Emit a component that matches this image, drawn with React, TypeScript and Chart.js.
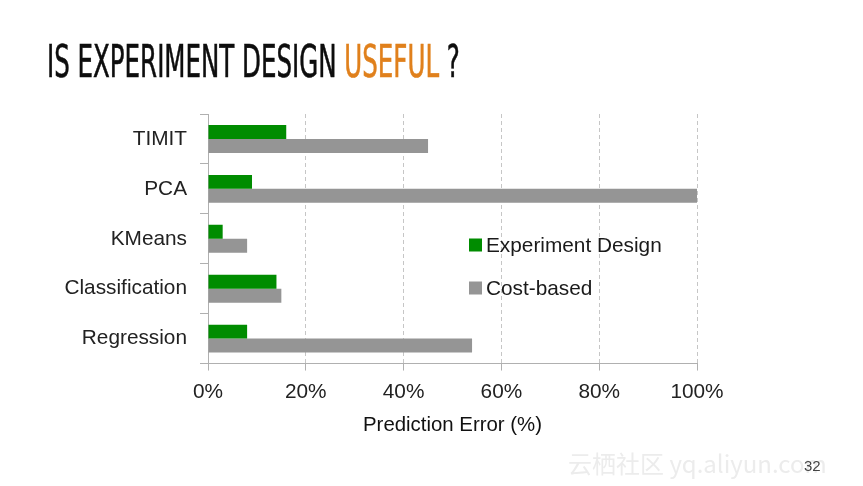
import React, { useEffect, useLayoutEffect, useRef } from 'react';
import { Chart, registerables } from 'chart.js';

Chart.register(...registerables);

const categories = ['TIMIT', 'PCA', 'KMeans', 'Classification', 'Regression'];
const experimentDesign = [16, 9, 3, 14, 8];
const costBased = [45, 100, 8, 15, 54];
const seriesLabels = ['Experiment Design', 'Cost-based'];
const seriesColors = ['#008c00', '#959595'];
const xTicks = [0, 20, 40, 60, 80, 100];
const xTitle = 'Prediction Error (%)';
const titleMain = 'IS EXPERIMENT DESIGN ';
const titleAccent = 'USEFUL';
const titleEnd = ' ?';
const watermark = '云栖社区 yq.aliyun.com';
const pageNumber = '32';

const FONT = '"Liberation Sans", Arial, Helvetica, sans-serif';

const insideLegend = {
  id: 'insideLegend',
  afterDraw(chart: any) {
    const { ctx, chartArea } = chart;
    const x = chartArea.left + 261;
    ctx.save();
    chart.data.datasets.forEach((ds: any, i: number) => {
      const y = chartArea.top + 131 + i * 43;
      ctx.fillStyle = ds.backgroundColor;
      ctx.fillRect(x, y - 6.5, 13, 13);
      ctx.fillStyle = '#1a1a1a';
      ctx.font = '20.8px ' + FONT;
      ctx.textBaseline = 'middle';
      ctx.textAlign = 'left';
      ctx.fillText(ds.label, x + 17, y + 1);
    });
    ctx.restore();
  },
};

export default function App() {
  const canvasRef = useRef<HTMLCanvasElement | null>(null);
  const titleRef = useRef<HTMLSpanElement | null>(null);

  useLayoutEffect(() => {
    const el = titleRef.current;
    if (el) {
      const w = el.offsetWidth;
      if (w > 0) el.style.transform = `scaleX(${413 / w})`;
    }
  }, []);

  useEffect(() => {
    if (!canvasRef.current) return;
    const chart = new Chart(canvasRef.current, {
      type: 'bar',
      data: {
        labels: categories,
        datasets: [
          { label: seriesLabels[0], data: experimentDesign, backgroundColor: seriesColors[0], borderWidth: 0 },
          { label: seriesLabels[1], data: costBased, backgroundColor: seriesColors[1], borderWidth: 0 },
        ],
      },
      plugins: [insideLegend],
      options: {
        indexAxis: 'y',
        animation: false,
        responsive: false,
        devicePixelRatio: 1,
        layout: { padding: { left: 0, top: 114, right: 166, bottom: 44 } },
        datasets: { bar: { barPercentage: 1, categoryPercentage: 0.56 } },
        plugins: {
          legend: { display: false },
          tooltip: { enabled: false },
          title: { display: false },
        },
        scales: {
          x: {
            type: 'linear',
            min: 0,
            max: 100,
            afterBuildTicks: (scale: any) => {
              scale.ticks = xTicks.map((v) => ({ value: v }));
            },
            ticks: {
              callback: (v: any) => v + '%',
              font: { family: FONT, size: 20.8 },
              color: '#222',
              padding: 9,
              maxRotation: 0,
            },
            grid: {
              color: '#c6c6c6',
              lineWidth: 1,
              drawTicks: true,
              tickLength: 7,
              tickColor: '#b0b0b0',
            },
            border: { display: true, color: '#b0b0b0', width: 1, dash: [4, 3] },
            title: {
              display: true,
              text: xTitle,
              font: { family: FONT, size: 20.4 },
              color: '#111',
              padding: { top: 0, bottom: 4 },
            },
          },
          y: {
            type: 'category',
            afterFit: (scale: any) => {
              scale.width = 208;
            },
            ticks: {
              font: { family: FONT, size: 20.8 },
              color: '#222',
              padding: 13,
            },
            grid: {
              display: true,
              drawOnChartArea: false,
              drawTicks: true,
              offset: true,
              tickLength: 8,
              tickColor: '#b0b0b0',
              color: '#b0b0b0',
            },
            border: { display: true, color: '#b0b0b0', width: 1 },
          },
        },
      } as any,
    });
    return () => chart.destroy();
  }, []);

  return (
    <div style={{ position: 'absolute', left: 0, top: 0, width: 863, height: 486, background: '#fff', overflow: 'hidden' }}>
      <canvas ref={canvasRef} width={863} height={486} style={{ display: 'block', position: 'absolute', left: 0, top: 0 }} />
      <div style={{ position: 'absolute', left: 47, top: 40, lineHeight: '44px', whiteSpace: 'nowrap' }}>
        <span
          ref={titleRef}
          style={{
            display: 'inline-block',
            transformOrigin: 'left top',
            fontFamily: '"Liberation Sans Narrow", "DejaVu Sans Condensed", sans-serif',
            fontWeight: 400,
            fontSize: 44,
            color: '#0d0d0d',
            WebkitTextStroke: '0.6px #0d0d0d',
          }}
        >
          {titleMain}
          <span style={{ color: '#e0801c', WebkitTextStroke: '0.6px #e0801c' }}>{titleAccent}</span>
          {titleEnd}
        </span>
      </div>
      <div style={{ position: 'absolute', left: 568, top: 447, fontFamily: '"Noto Sans CJK SC", sans-serif', fontSize: 24, color: '#ececec', whiteSpace: 'nowrap', lineHeight: '32px' }}>
        {watermark}
      </div>
      <div style={{ position: 'absolute', left: 804, top: 457, fontFamily: '"Liberation Sans Narrow", sans-serif', fontSize: 15, color: '#444', lineHeight: '18px' }}>
        {pageNumber}
      </div>
    </div>
  );
}
